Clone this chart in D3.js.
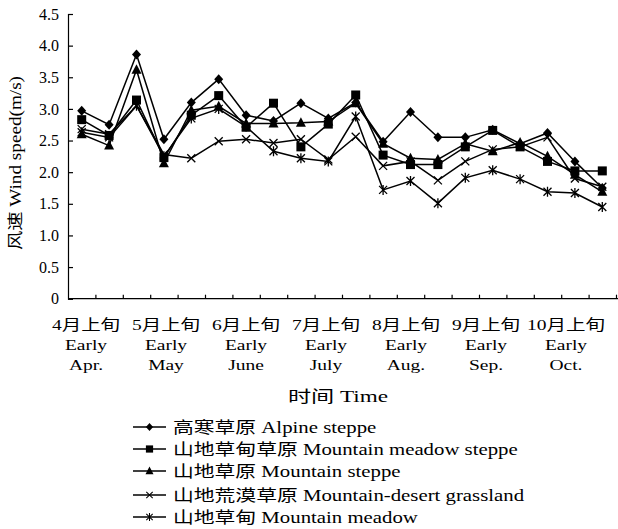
<!DOCTYPE html>
<html>
<head>
<meta charset="utf-8">
<script src="https://cdn.jsdelivr.net/npm/d3@7"></script>
<style>
  body { margin: 0; background: #fff; }
  text { font-family: "Liberation Serif", "Noto Sans CJK SC", serif; fill: #000; }
</style>
</head>
<body>
<script>
// dekads: Early Apr. ... Mid Oct.
var periods = d3.range(20);
var monthLabels = [
  { i: 0,  cn: "4月上旬",  en1: "Early", en2: "Apr." },
  { i: 3,  cn: "5月上旬",  en1: "Early", en2: "May" },
  { i: 6,  cn: "6月上旬",  en1: "Early", en2: "June" },
  { i: 9,  cn: "7月上旬",  en1: "Early", en2: "July" },
  { i: 12, cn: "8月上旬",  en1: "Early", en2: "Aug." },
  { i: 15, cn: "9月上旬",  en1: "Early", en2: "Sep." },
  { i: 18, cn: "10月上旬", en1: "Early", en2: "Oct." }
];
var yTicks = [0, 0.5, 1, 1.5, 2, 2.5, 3, 3.5, 4, 4.5];

// wind speed values (m/s)
var alpine       = [2.97, 2.75, 3.86, 2.52, 3.10, 3.47, 2.90, 2.81, 3.09, 2.85, 3.10, 2.48, 2.95, 2.55, 2.55, 2.67, 2.45, 2.62, 2.17, 1.75];
var meadowSteppe = [2.83, 2.58, 3.14, 2.23, 2.90, 3.21, 2.71, 3.09, 2.40, 2.76, 3.22, 2.27, 2.12, 2.12, 2.40, 2.66, 2.40, 2.17, 2.02, 2.02];
var steppe       = [2.60, 2.42, 3.62, 2.14, 2.98, 3.04, 2.77, 2.77, 2.78, 2.80, 3.09, 2.45, 2.22, 2.20, 2.45, 2.33, 2.47, 2.25, 1.96, 1.69];
var desert       = [2.68, 2.60, 3.05, 2.28, 2.22, 2.49, 2.52, 2.46, 2.52, 2.20, 2.56, 2.10, 2.17, 1.87, 2.17, 2.36, 2.40, 2.55, 1.90, 1.77];
var meadow       = [2.63, 2.55, 3.05, 2.25, 2.85, 3.00, 2.72, 2.33, 2.22, 2.17, 2.88, 1.72, 1.86, 1.51, 1.91, 2.03, 1.89, 1.69, 1.67, 1.45];

var seriesNames = [
  "高寒草原 Alpine steppe",
  "山地草甸草原 Mountain meadow steppe",
  "山地草原 Mountain steppe",
  "山地荒漠草原 Mountain-desert grassland",
  "山地草甸 Mountain meadow"
];
var seriesValues = [alpine, meadowSteppe, steppe, desert, meadow];
var markerTypes = ["diamond", "square", "triangle", "cross", "star"];

var width = 618, height = 529;
var plotLeft = 68, plotRight = 616, plotTop = 14, plotBottom = 298.7;
var stretch = 1.3; // the original lettering is wide

var svg = d3.select("body").append("svg")
    .attr("width", width)
    .attr("height", height);

// scales
var x = d3.scalePoint().domain(periods).range([plotLeft, plotRight]).padding(0.5);
var xb = d3.scaleLinear().domain([0, 20]).range([plotLeft, plotRight]);
var xLab = d3.scaleLinear().domain([0, 18]).range([86, 566]);
var y = d3.scaleLinear().domain([0, 4.5]).range([plotBottom, plotTop]);

// y axis
var yAxis = svg.append("g")
    .attr("transform", "translate(" + plotLeft + ",0)")
    .call(d3.axisLeft(y).tickValues(yTicks).tickSize(-5).tickPadding(9)
        .tickFormat(function(d) { return d === 0 ? "0" : d3.format(".1f")(d); }));
yAxis.select(".domain").attr("stroke-width", 1.2);
yAxis.selectAll(".tick line").attr("stroke-width", 1.2);
yAxis.selectAll("text").attr("font-size", "16px").style("font-family", "'Liberation Serif', serif");

// x axis
var xAxis = svg.append("g")
    .attr("transform", "translate(0," + plotBottom + ")")
    .call(d3.axisBottom(xb).tickValues(d3.range(1, 21)).tickSize(-4).tickSizeOuter(0).tickFormat(""));
xAxis.select(".domain").attr("d", "M" + plotLeft + ",0H" + width).attr("stroke-width", 1.2);
xAxis.selectAll(".tick line").attr("stroke-width", 1.2);

// wide text helper
function wideText(parent, px, py, str, size, anchor, sx) {
  var g = parent.append("g").attr("transform", "translate(" + px + "," + py + ") scale(" + (sx || stretch) + ",1)");
  return g.append("text").attr("text-anchor", anchor || "start").attr("font-size", size + "px").text(str);
}

// month labels
var labels = svg.append("g");
monthLabels.forEach(function(d) {
  wideText(labels, xLab(d.i), 330, d.cn, 15, "middle");
  wideText(labels, xLab(d.i), 350, d.en1, 15, "middle");
  wideText(labels, xLab(d.i), 370, d.en2, 15, "middle");
});

// axis titles
wideText(svg, 338, 402, "时间 Time", 16, "middle", 1.45);
svg.append("g")
    .attr("transform", "translate(21,163) rotate(-90) scale(1.2,1)")
    .append("text")
    .attr("text-anchor", "middle").attr("font-size", "16px")
    .text("风速 Wind speed(m/s)");

// marker drawing
function drawMarker(g, type) {
  if (type === "diamond") {
    g.append("path").attr("d", "M0,-5L4.5,0L0,5L-4.5,0Z").attr("fill", "#000");
  } else if (type === "square") {
    g.append("rect").attr("x", -4.5).attr("y", -4.5).attr("width", 9).attr("height", 9).attr("fill", "#000");
  } else if (type === "triangle") {
    g.append("path").attr("d", "M0,-5.5L5,4L-5,4Z").attr("fill", "#000");
  } else if (type === "cross") {
    g.append("path").attr("d", "M-4,-4L4,4M-4,4L4,-4").attr("stroke", "#000").attr("stroke-width", 1.3);
  } else {
    g.append("path").attr("d", "M-4,-4L4,4M-4,4L4,-4M0,-5L0,5").attr("stroke", "#000").attr("stroke-width", 1.3);
  }
}

var line = d3.line()
    .x(function(d, i) { return x(i); })
    .y(function(d) { return y(d); });

seriesValues.forEach(function(vals, s) {
  svg.append("path")
      .datum(vals)
      .attr("fill", "none")
      .attr("stroke", "#000")
      .attr("stroke-width", 1.5)
      .attr("d", line);
  svg.append("g").selectAll("g")
      .data(vals)
      .join("g")
      .attr("transform", function(d, i) { return "translate(" + x(i) + "," + y(d) + ")"; })
      .each(function() { drawMarker(d3.select(this), markerTypes[s]); });
});

// legend
var legendY = [427, 449, 471, 495, 517];
var legend = svg.append("g").selectAll("g")
    .data(seriesNames)
    .join("g")
    .attr("transform", function(d, i) { return "translate(133," + legendY[i] + ")"; });
legend.append("line").attr("x1", 0).attr("x2", 33).attr("stroke", "#000").attr("stroke-width", 1.5);
legend.each(function(d, i) {
  var m = d3.select(this).append("g").attr("transform", "translate(16.5,0) scale(0.8)");
  drawMarker(m, markerTypes[i]);
  wideText(d3.select(this), 40, 0, d, 16, "start").attr("dy", "0.35em");
});
</script>
</body>
</html>
